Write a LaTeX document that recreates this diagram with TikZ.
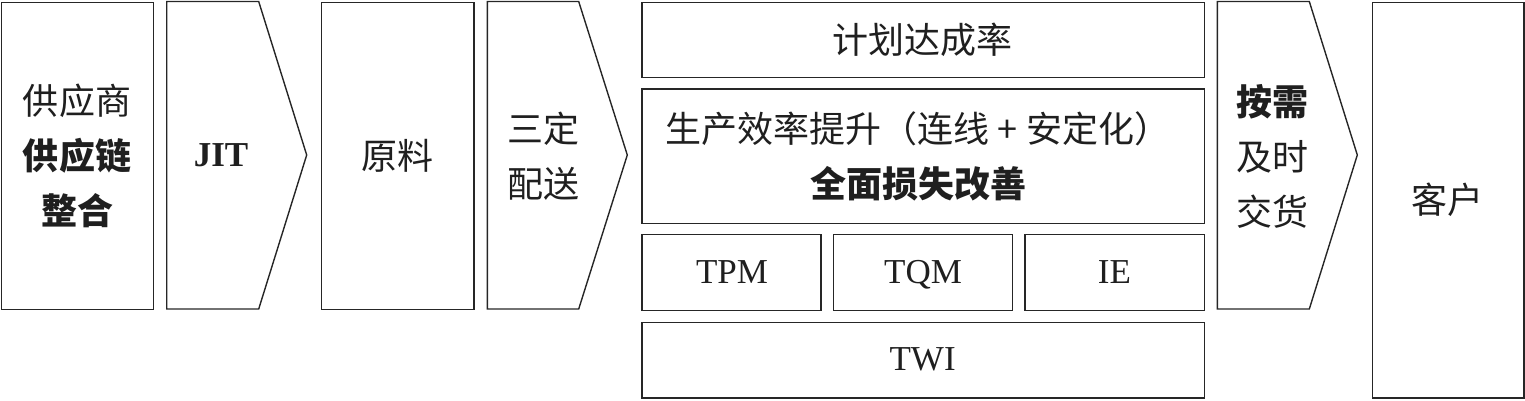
\documentclass[tikz,border=0pt]{standalone}
\usepackage{fontspec}
\setmainfont{Liberation Serif}
\newfontfamily\cjk{Noto Sans CJK SC}
\begin{document}
\begin{tikzpicture}[x=1pt,y=-1pt,
  frame/.style={draw=black!85, line width=1.4pt},
  boxn/.style={frame, anchor=north west, inner sep=0pt},
  cn/.style={font=\cjk\fontsize{36}{55}\selectfont, align=center, text=black!88, inner sep=0pt},
  lat/.style={font=\fontsize{35}{40}\selectfont, text=black!88, inner sep=0pt, anchor=base}]
\useasboundingbox (0,0) rectangle (1525,400);
% left column
\node[boxn, minimum width=152pt, minimum height=307.5pt] (sup) at (1,1.5) {};
\node[cn] (suptext) at (77,156) {供应商\\{\bfseries 供应链}\\{\bfseries 整合}};
% JIT arrow
\coordinate (j1) at (166.7,1.5);
\coordinate (j2) at (258.7,1.5);
\coordinate (j3) at (306.7,155);
\coordinate (j4) at (258.7,309);
\coordinate (j5) at (166.7,309);
\draw[frame, line join=miter] (j1) -- (j2) -- (j3) -- (j4) -- (j5) -- cycle;
\node[lat, font=\bfseries\fontsize{35}{40}\selectfont] (jit) at (221,166.7) {JIT};
% raw material
\node[boxn, minimum width=152.6pt, minimum height=307.5pt] (raw) at (320.7,1.5) {};
\node[cn] (rawtext) at (397,156) {原料};
% 三定配送 arrow
\coordinate (s1) at (487.3,1.5);
\coordinate (s2) at (578.7,1.5);
\coordinate (s3) at (627.3,155);
\coordinate (s4) at (578.7,309);
\coordinate (s5) at (487.3,309);
\draw[frame, line join=miter] (s1) -- (s2) -- (s3) -- (s4) -- (s5) -- cycle;
\node[cn] (sdtext) at (543,156) {三定\\配送};
% middle block
\node[boxn, minimum width=562.7pt, minimum height=75pt] (plan) at (641.3,1.7) {};
\node[cn] (plantext) at (922.6,40) {计划达成率};
\node[boxn, minimum width=562.7pt, minimum height=134.4pt] (eff) at (641.3,88.3) {};
\node[cn] (efftext) at (918,156.5) {生产效率提升（连线 + 安定化）\\{\bfseries 全面损失改善}};
\node[boxn, minimum width=179pt, minimum height=76pt] (tpm) at (641.3,234) {};
\node[lat] (tpmtext) at (732,283.3) {TPM};
\node[boxn, minimum width=179pt, minimum height=76pt] (tqm) at (833,234) {};
\node[lat] (tqmtext) at (923,283.3) {TQM};
\node[boxn, minimum width=179.6pt, minimum height=76pt] (ie) at (1024.4,234) {};
\node[lat] (ietext) at (1114.5,283.3) {IE};
\node[boxn, minimum width=562.7pt, minimum height=75.6pt] (twi) at (641.3,321.7) {};
\node[lat] (twitext) at (922.6,370.5) {TWI};
% 按需 arrow
\coordinate (a1) at (1217.3,1.5);
\coordinate (a2) at (1309.3,1.5);
\coordinate (a3) at (1357.3,155);
\coordinate (a4) at (1309.3,309);
\coordinate (a5) at (1217.3,309);
\draw[frame, line join=miter] (a1) -- (a2) -- (a3) -- (a4) -- (a5) -- cycle;
\node[cn] (deltext) at (1272,156) {{\bfseries 按需}\\及时\\交货};
% customer
\node[boxn, minimum width=151.3pt, minimum height=395.8pt] (cust) at (1372,1.5) {};
\node[cn] (custtext) at (1447,200) {客户};
\end{tikzpicture}
\end{document}
